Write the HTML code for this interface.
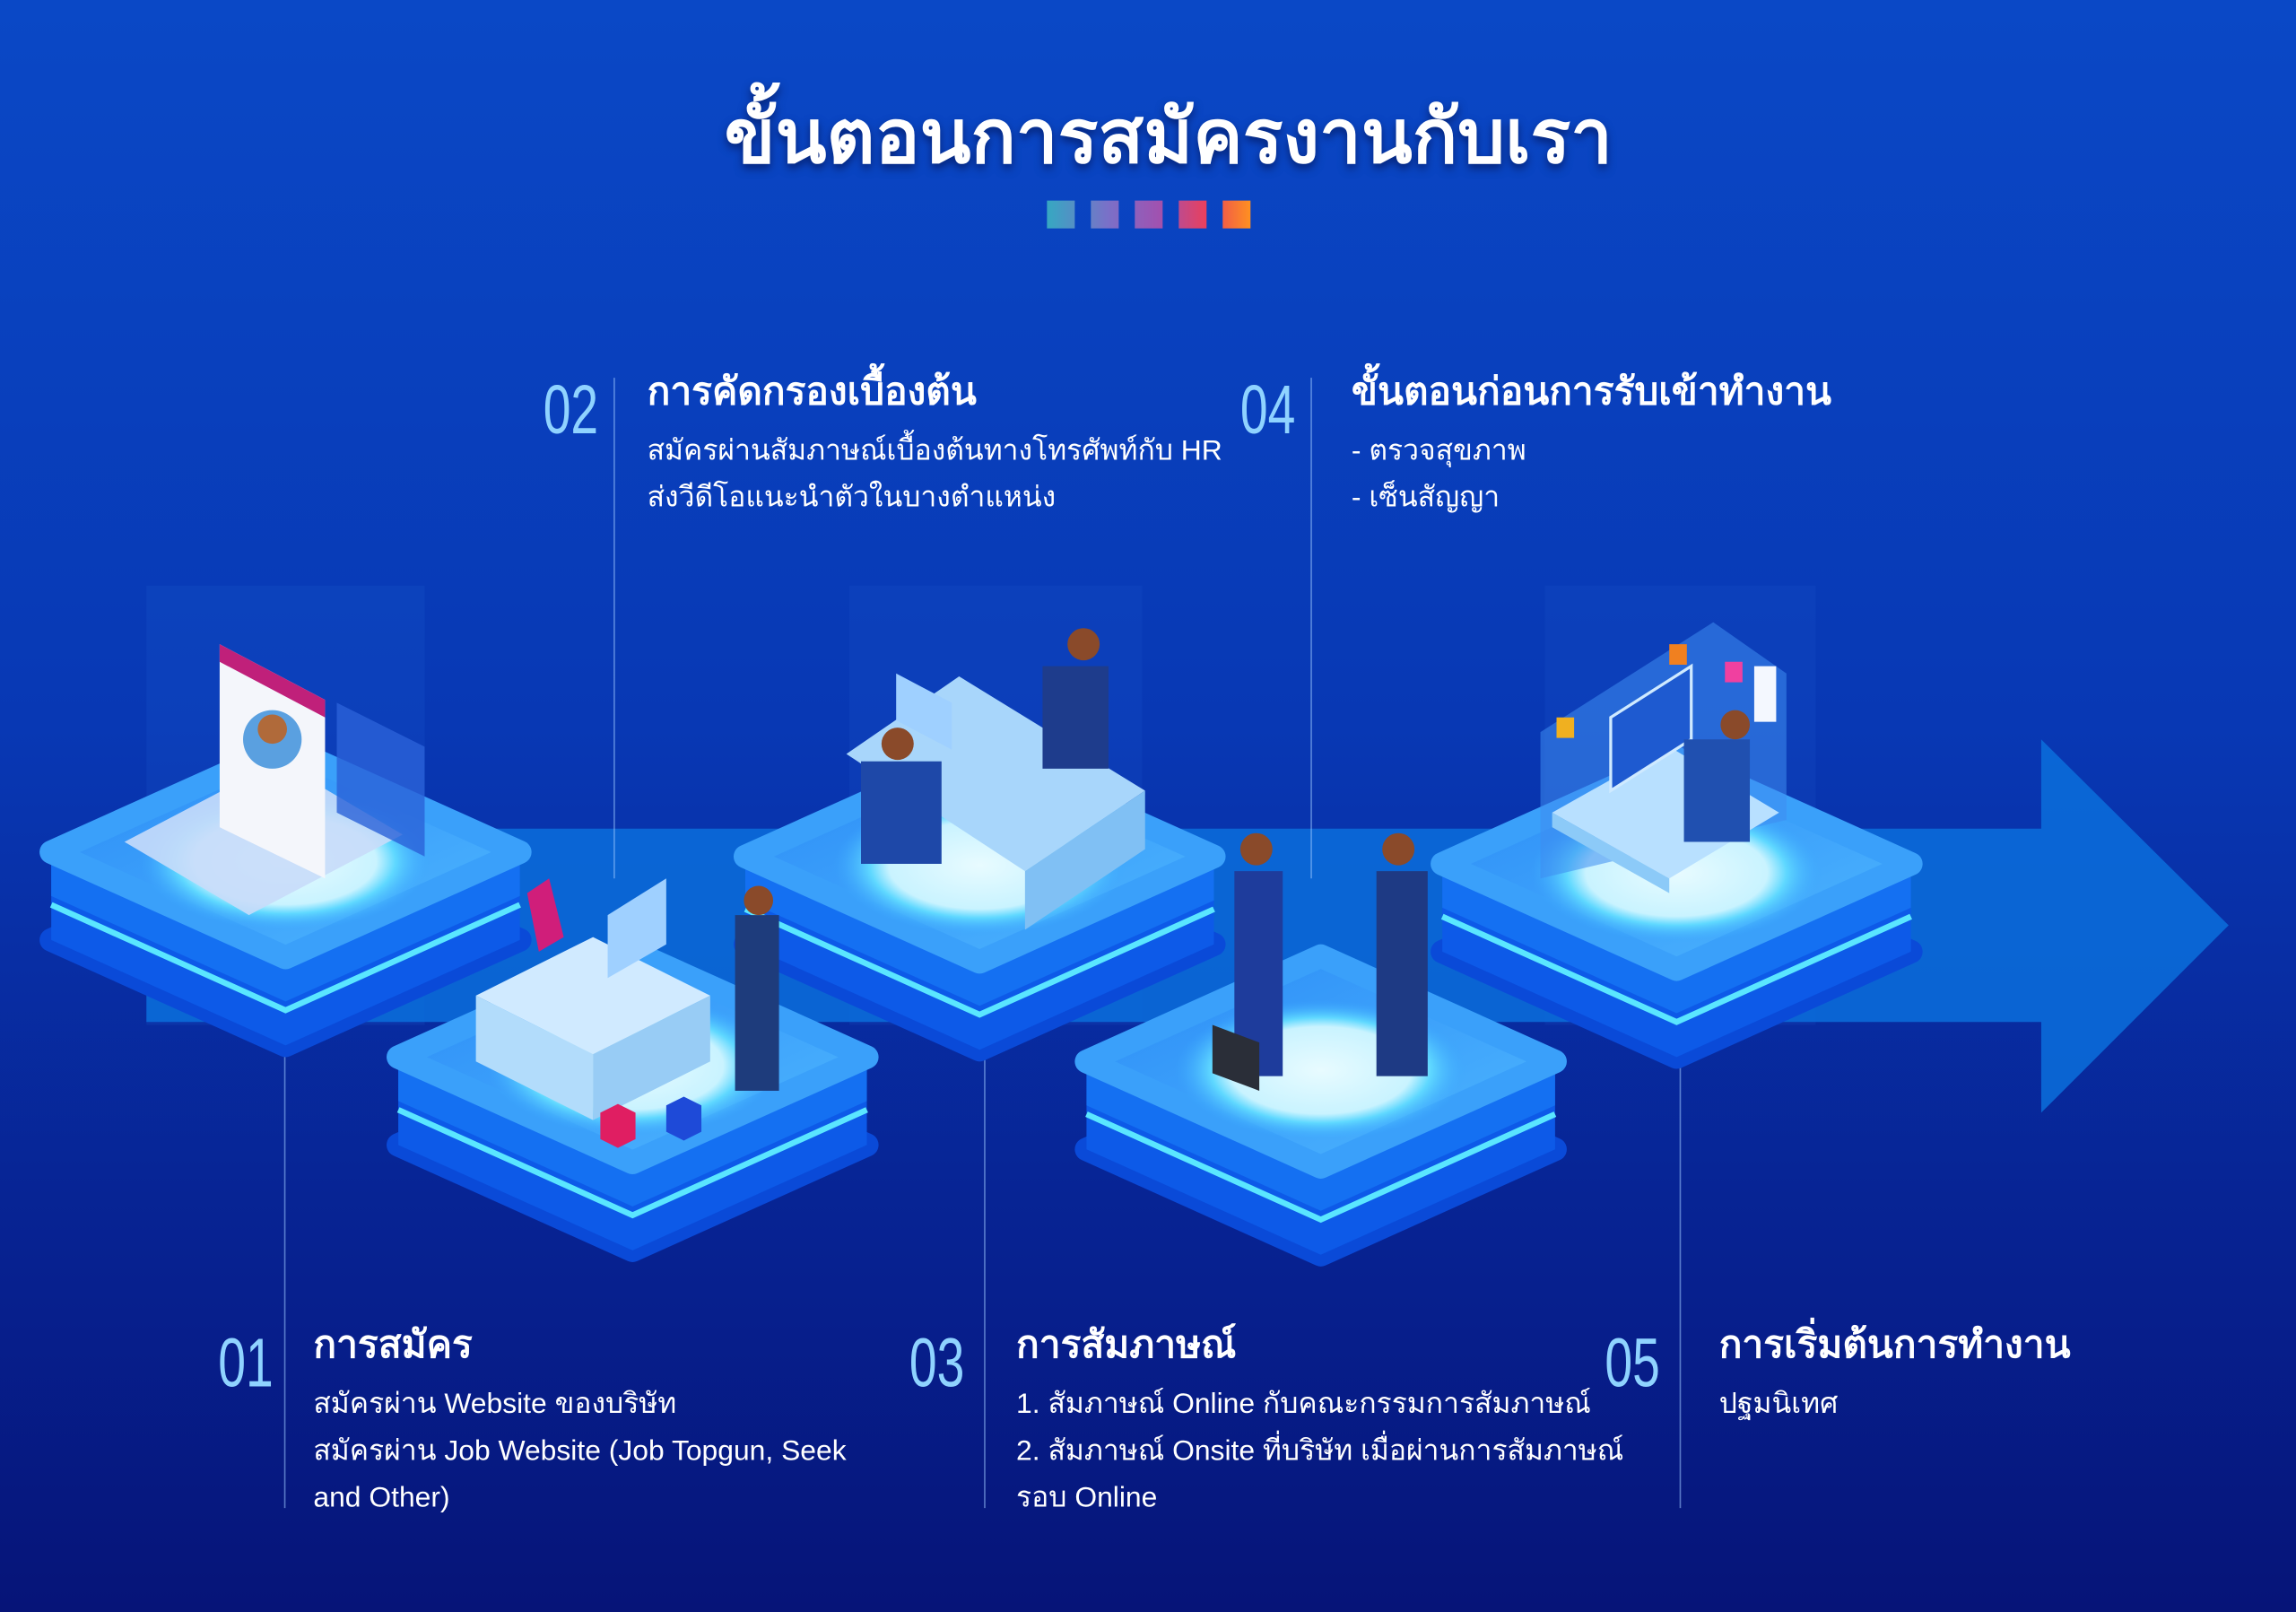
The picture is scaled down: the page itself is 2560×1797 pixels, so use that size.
<!DOCTYPE html>
<html><head><meta charset="utf-8"><style>
html,body{margin:0;padding:0;width:2560px;height:1797px;overflow:hidden;background:#0a2a9a;}
svg{display:block}
text{font-family:"Liberation Sans","DejaVu Sans",sans-serif;fill:#fff}
.num{font-family:"Liberation Sans Narrow","Liberation Sans",sans-serif;fill:#8fd3ff;font-weight:300}
.h{font-weight:bold;font-size:26px}
.b{font-size:19.5px}
</style></head><body>
<svg width="2560" height="1797" viewBox="0 0 1568 1101" preserveAspectRatio="none" xmlns="http://www.w3.org/2000/svg">
<defs>
<linearGradient id="bg" x1="0" y1="0" x2="0" y2="1">
<stop offset="0" stop-color="#0a48c6"/><stop offset="0.45" stop-color="#0838b4"/><stop offset="0.8" stop-color="#07208e"/><stop offset="1" stop-color="#061478"/></linearGradient>
<linearGradient id="sq" gradientUnits="userSpaceOnUse" x1="715" y1="0" x2="854" y2="0">
<stop offset="0" stop-color="#36a8c2"/><stop offset="0.3" stop-color="#7a70c8"/><stop offset="0.55" stop-color="#a052b0"/><stop offset="0.78" stop-color="#e8405e"/><stop offset="1" stop-color="#ff9020"/></linearGradient>
<linearGradient id="top" x1="0" y1="0" x2="1" y2="1">
<stop offset="0" stop-color="#2a8af6"/><stop offset="1" stop-color="#4fb8ff"/></linearGradient>
<radialGradient id="glow" cx="0.5" cy="0.5" r="0.5">
<stop offset="0" stop-color="#e8fbff"/><stop offset="0.62" stop-color="#c9f3ff"/><stop offset="0.75" stop-color="#5fd8ff"/><stop offset="1" stop-color="#3aa6ff" stop-opacity="0"/></radialGradient>
<g id="plat">
<polygon points="-160,60 0,132 160,60 0,-12" fill="#0a4ad8" stroke="#0a4ad8" stroke-width="16" stroke-linejoin="round"/>
<polygon points="-160,0 -160,60 0,132 160,60 160,0 0,72" fill="#0d5ae8"/>
<polygon points="-160,0 -160,30 0,102 160,30 160,0 0,72" fill="#1470f2"/>
<polyline points="-160,36 0,108 160,36" fill="none" stroke="#5ae6ff" stroke-width="4"/>
<polygon points="0,-72 160,0 0,72 -160,0" fill="url(#top)" stroke="#3aa0fa" stroke-width="16" stroke-linejoin="round"/>
<ellipse cx="0" cy="6" rx="100" ry="48" fill="url(#glow)"/>
</g>
</defs>
<rect width="1568" height="1101" fill="url(#bg)"/>
<rect x="100" y="400" width="190" height="300" fill="#2a6ae0" opacity="0.15"/>
<rect x="580" y="400" width="200" height="300" fill="#2a6ae0" opacity="0.12"/>
<rect x="1055" y="400" width="185" height="300" fill="#2a6ae0" opacity="0.12"/>
<polygon points="100,566 1394,566 1394,505 1522,632 1394,760 1394,698 100,698" fill="#0a6fdc" opacity="0.85"/>
<g stroke="#9cc8ff" stroke-opacity="0.55" stroke-width="1">
<line x1="419.5" y1="258" x2="419.5" y2="600"/>
<line x1="895.5" y1="258" x2="895.5" y2="600"/>
<line x1="194.5" y1="715" x2="194.5" y2="1030"/>
<line x1="672.5" y1="715" x2="672.5" y2="1030"/>
<line x1="1147.5" y1="715" x2="1147.5" y2="1030"/>
</g>
<use href="#plat" transform="translate(195,582)"/>
<use href="#plat" transform="translate(669,585)"/>
<use href="#plat" transform="translate(1145,590)"/>
<use href="#plat" transform="translate(432,722)"/>
<use href="#plat" transform="translate(902,725)"/>
<!-- P1 -->
<polygon points="85,575 190,520 275,570 170,625" fill="#c8dcfa" opacity="0.9"/>
<polygon points="230,480 290,510 290,585 230,555" fill="#2a62d8" opacity="0.8"/>
<polygon points="150,440 222,478 222,600 150,565" fill="#f4f6fb"/>
<polygon points="150,440 222,478 222,490 150,452" fill="#c0207a"/>
<circle cx="186" cy="505" r="20" fill="#5aa0e0"/>
<circle cx="186" cy="498" r="10" fill="#b06a3a"/>
<!-- P2 -->
<polygon points="325,680 405,640 485,680 405,720" fill="#d0eaff"/>
<polygon points="325,680 405,720 405,765 325,725" fill="#b2dcfb"/>
<polygon points="405,720 485,680 485,725 405,765" fill="#98ccf5"/>
<polygon points="415,625 455,600 455,645 415,668" fill="#9fd0ff"/>
<polygon points="360,610 375,600 385,640 368,650" fill="#d01e7a"/>
<rect x="502" y="625" width="30" height="120" fill="#1e3c7c"/>
<circle cx="518" cy="615" r="10" fill="#8a4a2a"/>
<polygon points="410,760 422,754 434,760 434,778 422,784 410,778" fill="#e01e62"/>
<polygon points="455,755 467,749 479,755 479,773 467,779 455,773" fill="#1e4ad8"/>
<!-- P3 -->
<polygon points="578,515 655,462 782,540 700,595" fill="#a8d6fb"/>
<polygon points="700,595 782,540 782,580 700,635" fill="#80c0f4"/>
<polygon points="612,460 650,480 650,512 612,492" fill="#9fd0ff"/>
<rect x="712" y="455" width="45" height="70" fill="#1e3c8c"/>
<circle cx="740" cy="440" r="11" fill="#8a4a2a"/>
<rect x="588" y="520" width="55" height="70" fill="#1e48a8"/>
<circle cx="613" cy="508" r="11" fill="#8a4a2a"/>
<!-- P4 -->
<rect x="843" y="595" width="33" height="140" fill="#1e3c9c"/>
<circle cx="858" cy="580" r="11" fill="#8a4a2a"/>
<rect x="940" y="595" width="35" height="140" fill="#1e3a84"/>
<circle cx="955" cy="580" r="11" fill="#8a4a2a"/>
<polygon points="828,700 860,712 860,745 828,733" fill="#2a2e38"/>
<!-- P5 -->
<polygon points="1052,500 1170,425 1220,460 1220,560 1052,600" fill="#3e8cf0" opacity="0.55"/>
<polygon points="1060,555 1140,510 1215,555 1140,600" fill="#b8e0ff"/>
<polygon points="1060,555 1140,600 1140,610 1060,565" fill="#8ccaf8"/>
<polygon points="1100,490 1155,455 1155,505 1100,540" fill="#1e5ad0" stroke="#cfeaff" stroke-width="2"/>
<rect x="1150" y="505" width="45" height="70" fill="#2050b0"/>
<circle cx="1185" cy="495" r="10" fill="#8a4a2a"/>
<rect x="1063" y="490" width="12" height="14" fill="#f0b020"/>
<rect x="1140" y="440" width="12" height="14" fill="#f08020"/>
<rect x="1178" y="452" width="12" height="14" fill="#f040a0"/>
<rect x="1198" y="455" width="15" height="38" fill="#f4f8ff"/>
<text x="798" y="111" text-anchor="middle" font-size="51" font-weight="bold" style="filter:drop-shadow(0 3px 3px rgba(0,0,40,0.5))">ขั้นตอนการสมัครงานกับเรา</text>
<g fill="url(#sq)">
<rect x="715" y="137" width="19" height="19"/><rect x="745" y="137" width="19" height="19"/><rect x="775" y="137" width="19" height="19"/><rect x="805" y="137" width="19" height="19"/><rect x="835" y="137" width="19" height="19"/>
</g>
<text class="num" x="371" y="296" font-size="47" transform="translate(371 296) scale(0.72 1) translate(-371 -296)">02</text>
<text class="h" x="442" y="276">การคัดกรองเบื้องต้น</text>
<text class="b" x="442" y="314">สมัครผ่านสัมภาษณ์เบื้องต้นทางโทรศัพท์กับ HR</text>
<text class="b" x="442" y="346">ส่งวีดีโอแนะนำตัวในบางตำแหน่ง</text>
<text class="num" x="847" y="296" font-size="47" transform="translate(847 296) scale(0.72 1) translate(-847 -296)">04</text>
<text class="h" x="923" y="276">ขั้นตอนก่อนการรับเข้าทำงาน</text>
<text class="b" x="923" y="314">- ตรวจสุขภาพ</text>
<text class="b" x="923" y="346">- เซ็นสัญญา</text>
<text class="num" x="149" y="947" font-size="47" transform="translate(149 947) scale(0.72 1) translate(-149 -947)">01</text>
<text class="h" x="214" y="927">การสมัคร</text>
<text class="b" x="214" y="965">สมัครผ่าน Website ของบริษัท</text>
<text class="b" x="214" y="997">สมัครผ่าน Job Website (Job Topgun, Seek</text>
<text class="b" x="214" y="1029">and Other)</text>
<text class="num" x="621" y="947" font-size="47" transform="translate(621 947) scale(0.72 1) translate(-621 -947)">03</text>
<text class="h" x="694" y="927">การสัมภาษณ์</text>
<text class="b" x="694" y="965">1. สัมภาษณ์ Online กับคณะกรรมการสัมภาษณ์</text>
<text class="b" x="694" y="997">2. สัมภาษณ์ Onsite ที่บริษัท เมื่อผ่านการสัมภาษณ์</text>
<text class="b" x="694" y="1029">รอบ Online</text>
<text class="num" x="1096" y="947" font-size="47" transform="translate(1096 947) scale(0.72 1) translate(-1096 -947)">05</text>
<text class="h" x="1174" y="927">การเริ่มต้นการทำงาน</text>
<text class="b" x="1174" y="965">ปฐมนิเทศ</text>
</svg>
</body></html>
